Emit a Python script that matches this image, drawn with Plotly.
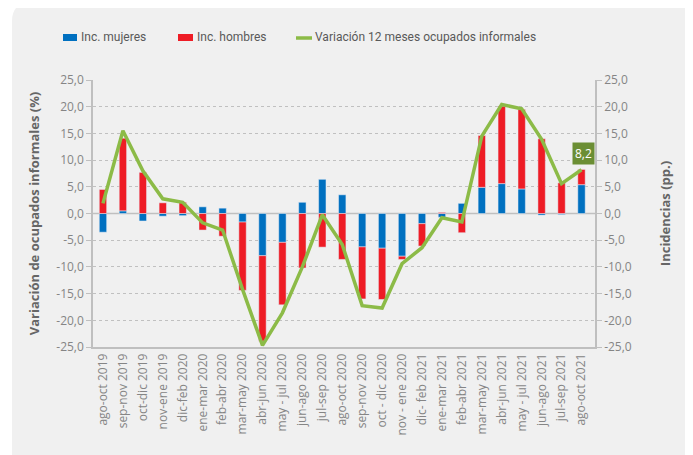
import plotly.graph_objects as go

categories = ["ago-oct 2019", "sep-nov 2019", "oct-dic 2019", "nov-ene 2019", "dic-feb 2020",
              "ene-mar 2020", "feb-abr 2020", "mar-may 2020", "abr-jun 2020", "may - jul 2020",
              "jun-ago 2020", "jul-sep 2020", "ago-oct 2020", "sep-nov 2020", "oct - dic 2020",
              "nov - ene 2020", "dic- feb 2021", "ene-mar 2021", "feb-abr 2021", "mar-may 2021",
              "abr-jun 2021", "may - jul 2021", "jun-ago 2021", "jul-sep 2021", "ago-oct 2021"]

inc_mujeres = [-3.5, 0.5, -1.4, -0.5, -0.4, 1.25, 1.0, -1.6, -7.9, -5.4,
               2.1, 6.4, 3.5, -6.25, -6.5, -8.0, -1.9, -0.7, 1.9, 4.9,
               5.6, 4.6, -0.3, -0.2, 5.4]
inc_hombres = [4.5, 13.6, 7.7, 2.0, 2.1, -3.1, -4.25, -12.8, -16.0, -11.7,
               -10.2, -6.3, -8.6, -9.75, -9.6, -0.6, -4.2, 0.2, -3.6, 9.7,
               14.5, 14.9, 14.0, 5.75, 2.85]
variacion = [1.9, 15.5, 8.0, 2.75, 2.1, -1.75, -3.1, -14.2, -24.7, -18.6,
             -10.0, -0.25, -5.8, -17.25, -17.7, -9.4, -6.4, -0.8, -1.6, 14.5,
             20.4, 19.6, 13.9, 5.6, 8.2]

series_names = ["Inc. mujeres", "Inc. hombres", "Variación 12 meses ocupados informales"]

tick_vals = [-25, -20, -15, -10, -5, 0, 5, 10, 15, 20, 25]
tick_text = ["-25,0", "-20,0", "-15,0", "-10,0", "-5,0", "0,0", "5,0", "10,0", "15,0", "20,0", "25,0"]

BLUE = "#0070c0"
RED = "#ee1c25"
GREEN = "#8cbb47"
OLIVE = "#6b8e34"
GRAY = "#858585"
FONT = "Open Sans"

fig = go.Figure()
fig.add_trace(go.Bar(x=categories, y=inc_mujeres, name=series_names[0], marker_color=BLUE,
                     yaxis="y"))
fig.add_trace(go.Bar(x=categories, y=inc_hombres, name=series_names[1], marker_color=RED,
                     yaxis="y"))
fig.add_trace(go.Scatter(x=categories, y=variacion, name=series_names[2],
                         mode="lines", line=dict(color=GREEN, width=3.5), yaxis="y2"))

fig.add_annotation(x=categories[-1], y=variacion[-1], yref="y2", text="8,2", showarrow=False,
                   yshift=16, xshift=2, bgcolor=OLIVE, borderpad=2,
                   font=dict(family=FONT, size=12, color="white"))

# page has an 8px body margin: the figure is placed at (8, 8)
OFF = 8
W, H = 693 - OFF, 455 - OFF
PL, PR, PT, PB = 93, 595, 80, 347          # plot area in page pixels
l, r, t, b = PL - OFF, W - (PR - OFF), PT - OFF, H - (PB - OFF)
pw, ph = W - l - r, H - t - b
def px(x):
    return (x - OFF - l) / pw
def py(y):
    return (H - b - (y - OFF)) / ph

# card background
x0, y0, y1 = px(12), py(3), py(470)
rad = 18
path = (f"M {x0},{y1} L {x0},{py(3 + rad)} Q {x0},{y0} {px(12 + rad)},{y0} "
        f"L {px(690 - rad)},{y0} Q {px(690)},{y0} {px(690)},{py(3 + rad)} L {px(690)},{y1} Z")
fig.add_shape(type="path", path=path, xref="paper", yref="paper", fillcolor="#f0f0f0",
              line=dict(width=0), layer="below")

# manual legend
LEG_Y = 37
legend_items = [(series_names[0], BLUE, "box", 63, 77, 79),
                (series_names[1], RED, "box", 178, 193, 195),
                (series_names[2], GREEN, "line", 296, 312, 313)]
for name, col, kind, sx0, sx1, tx in legend_items:
    if kind == "box":
        fig.add_shape(type="rect", xref="paper", yref="paper", x0=px(sx0), x1=px(sx1),
                      y0=py(LEG_Y + 4), y1=py(LEG_Y - 3), fillcolor=col, line=dict(width=0))
    else:
        fig.add_shape(type="line", xref="paper", yref="paper", x0=px(sx0), x1=px(sx1),
                      y0=py(LEG_Y + 1), y1=py(LEG_Y + 1), line=dict(color=col, width=3.5))
    fig.add_annotation(x=px(tx), y=py(LEG_Y), xref="paper", yref="paper", text=name,
                       showarrow=False, xanchor="left", yanchor="middle",
                       font=dict(family="Roboto", size=12, color="#595959"))

axis_common = dict(range=[-25, 25], tickvals=tick_vals, ticktext=tick_text,
                   tickfont=dict(family=FONT, size=12, color=GRAY),
                   ticks="outside", ticklen=5, tickcolor="#bfbfbf", automargin=False,
                   showline=True, linecolor="#bfbfbf", linewidth=1.5, zeroline=False)

fig.update_layout(
    width=W, height=H,
    margin=dict(l=l, r=r, t=t, b=b, autoexpand=False),
    paper_bgcolor="white", plot_bgcolor="rgba(0,0,0,0)",
    barmode="relative", bargap=0.63,
    font=dict(family=FONT, color=GRAY),
    showlegend=False,
    xaxis=dict(tickangle=-90, tickfont=dict(family=FONT, size=12, color=GRAY),
               showline=True, linecolor="#bfbfbf", linewidth=1.5, ticks="",
               showgrid=False, automargin=False),
    yaxis=dict(**axis_common, showgrid=True, gridcolor="#c0c0c0", griddash="dot", gridwidth=1,
               title=dict(text="<b>Variación de ocupados informales (%)</b>",
                          font=dict(family=FONT, size=13, color="#666666"), standoff=14)),
    yaxis2=dict(**axis_common, overlaying="y", side="right", showgrid=False,
                title=dict(text="<b>Incidencias (pp.)</b>",
                           font=dict(family=FONT, size=13, color="#666666"), standoff=30)),
)

fig.add_shape(type="line", xref="paper", yref="y", x0=0, x1=1, y0=0, y1=0,
              line=dict(color="#bfbfbf", width=1.5), layer="below")

fig.write_html("out.html")
